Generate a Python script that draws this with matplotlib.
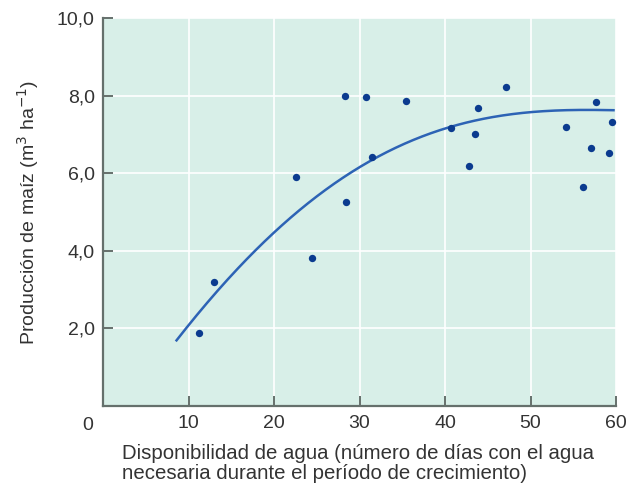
import numpy as np
import matplotlib
matplotlib.use("Agg")
import matplotlib.pyplot as plt

plt.rcParams['font.family'] = ['Liberation Sans', 'DejaVu Sans']

# Observed data points (días de agua, producción)
dias = [11.2, 13.0, 22.6, 24.4, 28.3, 28.4, 30.7, 31.5, 35.4, 40.7,
        42.8, 43.5, 43.8, 47.1, 54.2, 56.1, 57.1, 57.7, 59.2, 59.5]
produccion = [1.87, 3.19, 5.89, 3.80, 7.99, 5.25, 7.96, 6.41, 7.85, 7.17,
              6.18, 7.00, 7.68, 8.21, 7.19, 5.65, 6.65, 7.84, 6.51, 7.33]

# Fitted curve
curva_x = [8.6, 12.9, 18.4, 20.0, 25.4, 31.5, 39.4, 50.0, 57.3, 59.7]
curva_y = [1.65, 2.94, 4.09, 4.40, 5.48, 6.41, 7.07, 7.57, 7.65, 7.61]

x_ticks = [10, 20, 30, 40, 50, 60]
x_ticklabels = ['10', '20', '30', '40', '50', '60']
y_ticks = [2, 4, 6, 8, 10]
y_ticklabels = ['2,0', '4,0', '6,0', '8,0', '10,0']

fig = plt.figure(figsize=(6.28, 4.88), dpi=100)
ax = fig.add_axes([0.164, 0.1686, 0.817, 0.7944])
ax.set_facecolor('#d8efe8')
ax.set_xlim(0, 60)
ax.set_ylim(0, 10)

ax.set_xticks(x_ticks)
ax.set_xticklabels(x_ticklabels)
ax.set_yticks(y_ticks)
ax.set_yticklabels(y_ticklabels)
ax.grid(True, color='white', linewidth=1.2)
ax.set_axisbelow(True)

for s in ['top', 'right']:
    ax.spines[s].set_visible(False)
for s in ['left', 'bottom']:
    ax.spines[s].set_color('#65706c')
    ax.spines[s].set_linewidth(1.6)
ax.tick_params(direction='in', length=7, width=1.4, color='#65706c',
               labelsize=14, labelcolor='#333333')
ax.tick_params(axis='y', pad=6)
ax.tick_params(axis='x', pad=7)

# smooth fitted curve through the read points
coef = np.polyfit(curva_x, curva_y, 4)
xs = np.linspace(curva_x[0], curva_x[-1], 300)
ax.plot(xs, np.polyval(coef, xs), color='#2d63b5', linewidth=1.8, zorder=3)

ax.scatter(dias, produccion, s=28, color='#0b3b8f', zorder=4, linewidths=0)

ax.text(-0.02, -0.028, '0', transform=ax.transAxes, ha='right', va='top',
        fontsize=14, color='#333333')

fig.text(0.045, 0.565, 'Producción de maíz (m$^3$ ha$^{-1}$)', rotation=90,
         ha='center', va='center', fontsize=14, color='#333333')
fig.text(0.194, 0.09,
         'Disponibilidad de agua (número de días con el agua\nnecesaria durante el período de crecimiento)',
         ha='left', va='top', fontsize=14.7, color='#333333', linespacing=1.05)

fig.savefig('out.png', dpi=100)
